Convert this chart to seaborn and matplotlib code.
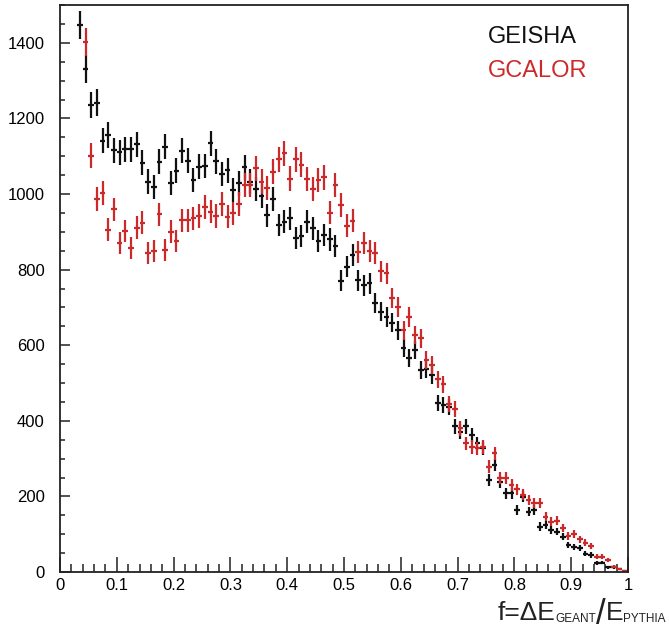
import matplotlib
matplotlib.use("Agg")
import matplotlib.pyplot as plt
from matplotlib.ticker import MultipleLocator, FuncFormatter
import numpy as np
import seaborn as sns

# Histogram binning (width 0.01); lower edge of first filled bin per sample
bin_width = 0.01
geisha_first_edge = 0.03
gcalor_first_edge = 0.04

# Counts per bin
geisha_counts = [
    1447, 1330, 1235, 1242, 1141, 1156, 1116, 1110, 1118, 1118,
    1131, 1083, 1033, 1019, 1085, 1125, 1030, 1062, 1115, 1088,
    1037, 1072, 1074, 1134, 1086, 1053, 1063, 1011, 1028, 1071,
    1033, 1012, 995, 944, 986, 918, 927, 936, 883, 889,
    927, 909, 876, 892, 880, 862, 770, 808, 839, 772,
    759, 764, 711, 689, 675, 660, 640, 592, 565, 587,
    534, 536, 521, 446, 442, 437, 385, 371, 386, 362,
    340, 327, 243, 283, 239, 208, 208, 164, 199, 160,
    164, 120, 124, 111, 107, 93, 71, 67, 63, 48,
    45, 23, 25, 12, 12, 7, 3,
]
gcalor_counts = [
    1403, 1101, 986, 1003, 906, 959, 871, 902, 858, 911,
    924, 843, 850, 946, 852, 900, 876, 931, 931, 936,
    942, 966, 953, 942, 974, 940, 949, 974, 1024, 1024,
    1068, 1033, 1015, 1059, 1092, 1108, 1041, 1092, 1077, 1039,
    1012, 1037, 1044, 951, 1024, 971, 916, 929, 846, 871,
    850, 845, 795, 790, 724, 702, 640, 675, 627, 618,
    560, 548, 510, 497, 445, 432, 380, 340, 331, 327,
    331, 279, 314, 248, 248, 230, 219, 204, 190, 182,
    182, 146, 133, 136, 116, 95, 101, 86, 78, 69,
    41, 41, 32, 14, 7, 3,
]

samples = ["GEISHA", "GCALOR"]
colors = {"GEISHA": "#111111", "GCALOR": "#cc2a2a"}

sns.set_theme(style="ticks")
plt.rcParams["font.family"] = ["Liberation Sans", "DejaVu Sans"]

fig = plt.figure(figsize=(6.69, 6.37), dpi=100)
ax = fig.add_axes([60 / 669, 65 / 637, 568 / 669, 567 / 637])

for name, first_edge, counts in [
    ("GEISHA", geisha_first_edge, geisha_counts),
    ("GCALOR", gcalor_first_edge, gcalor_counts),
]:
    counts = np.array(counts, dtype=float)
    centers = first_edge + bin_width * (np.arange(len(counts)) + 0.5)
    ax.errorbar(
        centers, counts,
        xerr=bin_width / 2, yerr=np.sqrt(counts),
        fmt="none", ecolor=colors[name], elinewidth=1.6, capsize=0,
    )

ax.set_xlim(0, 1)
ax.set_ylim(0, 1500)

# ROOT-like axis: ticks inside, left and bottom only
ax.xaxis.set_major_locator(MultipleLocator(0.1))
ax.xaxis.set_minor_locator(MultipleLocator(0.02))
ax.yaxis.set_major_locator(MultipleLocator(200))
ax.yaxis.set_minor_locator(MultipleLocator(50))
ax.xaxis.set_major_formatter(FuncFormatter(lambda v, p: f"{v:g}"))
ax.yaxis.set_major_formatter(FuncFormatter(lambda v, p: f"{v:g}"))
ax.tick_params(axis="x", which="major", direction="in", length=10.5, width=1.1, pad=4,
               labelsize=12, color="#222222", labelcolor="black")
ax.tick_params(axis="x", which="minor", direction="in", length=5.5, width=1.1, color="#222222")
ax.tick_params(axis="y", which="major", direction="in", length=7, width=1.1, pad=11,
               labelsize=12, color="#222222", labelcolor="black")
ax.tick_params(axis="y", which="minor", direction="in", length=3.5, width=1.1, color="#222222")
for side in ["top", "right", "left", "bottom"]:
    ax.spines[side].set_visible(True)
    ax.spines[side].set_linewidth(1.3)
    ax.spines[side].set_color("#222222")
ax.grid(False)

# Legend as plain coloured text
for i, name in enumerate(samples):
    fig.text(488 / 669, (637 - 43 - 34 * i) / 637, name, color=colors[name],
             fontsize=17, ha="left", va="baseline")

# x-axis title built from pieces: (text, size, baseline shift in px)
title_pieces = [("f=\u0394E", 19, 0), ("GEANT", 8.5, -2), ("/", 25, -4),
                ("E", 19, 0), ("PYTHIA", 8.5, -2)]
renderer = fig.canvas.get_renderer()
title_texts = []
for s, size, dy in title_pieces:
    t = fig.text(0, 0, s, fontsize=size, color="#222222", ha="left", va="baseline")
    title_texts.append((t, t.get_window_extent(renderer).width, dy))
x_px = 666 - sum(w for _, w, _ in title_texts)
for t, w, dy in title_texts:
    t.set_position((x_px / 669, (17 + dy) / 637))
    x_px += w

fig.savefig("out.png", dpi=100, facecolor="white")
